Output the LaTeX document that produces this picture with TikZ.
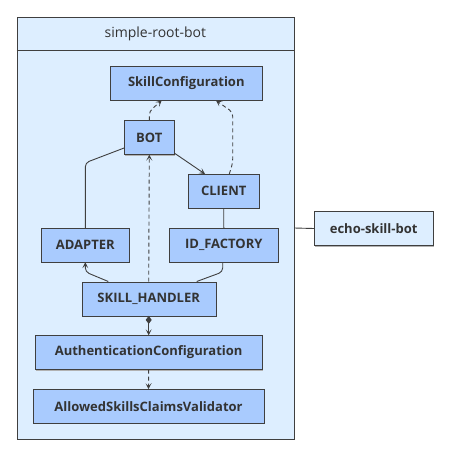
\documentclass[tikz,border=0pt]{standalone}
\usepackage{fontspec}
\setmainfont{Open Sans}
\usetikzlibrary{arrows.meta,shadows}
\definecolor{pane}{HTML}{DDEEFF}
\definecolor{comp}{HTML}{A9CBFE}
\definecolor{ink}{HTML}{333333}
\definecolor{edge}{HTML}{3F3F3F}
\begin{document}
\begin{tikzpicture}[x=1pt, y=-1pt,
    shade/.style = {drop shadow={shadow xshift=1pt, shadow yshift=-1pt, fill=black!30, opacity=1}},
    comp/.style = {draw=edge, fill=comp, text=ink, font=\bfseries\fontsize{13}{15}\selectfont,
                   minimum height=34pt, inner sep=0pt, shade},
    wire/.style = {draw=edge, line width=0.9pt, rounded corners=4pt},
    tip/.style  = {-{Stealth[length=6pt, width=6pt, inset=3pt]}},
    dep/.style  = {wire, tip, dash pattern=on 4pt off 3pt}]
  \useasboundingbox (0,0) rectangle (448,455);
  \node[draw=edge, fill=pane, minimum width=277.3pt, minimum height=422.6pt, inner sep=0pt, shade]
    (root) at (155.35,228) {};
  \draw[edge, line width=0.9pt] (root.west |- 0,50.7) -- (root.east |- 0,50.7);
  \node[text=ink, font=\fontsize{14}{16}\selectfont] (title) at (155.35,34) {simple-root-bot};
  \node[comp, minimum width=151.3pt] (skill)   at (186.3,83.3)  {SkillConfiguration};
  \node[comp, minimum width=50pt]    (bot)     at (149.3,137.5) {BOT};
  \node[comp, minimum width=71.3pt]  (client)  at (223.7,191.2) {CLIENT};
  \node[comp, minimum width=88pt]    (adapter) at (85.3,245)    {ADAPTER};
  \node[comp, minimum width=109pt]   (idf)     at (223.8,245)   {ID\_FACTORY};
  \node[comp, minimum width=134pt]   (handler) at (148.7,298.7) {SKILL\_HANDLER};
  \node[comp, minimum width=226.7pt] (auth)    at (148.7,352.5) {AuthenticationConfiguration};
  \node[comp, minimum width=231.6pt] (allowed) at (148.5,406.3) {AllowedSkillsClaimsValidator};
  \node[comp, fill=pane, minimum width=119.3pt] (echo) at (373.7,228.5) {echo-skill-bot};
  \draw[wire] ([yshift=-10.5pt]bot.west) -- ([yshift=65pt]adapter.north) -- (adapter.north);
  \draw[wire, tip] ([yshift=1.5pt]bot.south east) -- ([xshift=-18.7pt]client.north);
  \draw[dep] (bot.north) -- ([yshift=9pt]bot.north) -- ([xshift=-24.6pt]skill.south);
  \draw[dep] ([xshift=5.6pt]client.north) -- ([xshift=9pt, yshift=11pt]client.north)
    -- ([xshift=46.4pt, yshift=-11.7pt]skill.south) -- ([xshift=29.7pt]skill.south);
  \draw[dep] (handler.north) -- (bot.south);
  \draw[wire, tip] ([xshift=-40.4pt]handler.north) -- ([yshift=-9.7pt]adapter.south) -- (adapter.south);
  \draw[wire] ([xshift=48pt]handler.north) -- ([xshift=-1.1pt, yshift=-9.7pt]idf.south) -- ([xshift=-1.1pt]idf.south);
  \draw[wire] (client.south) -- (idf.north);
  \draw[wire, {Diamond[length=8pt, width=6pt]}-{Stealth[length=6pt, width=6pt, inset=3pt]}] (handler.south) -- (auth.north);
  \draw[dep] (auth.south) -- (allowed.north);
  \draw[wire] (root.east) -- (echo.west);
\end{tikzpicture}
\end{document}
